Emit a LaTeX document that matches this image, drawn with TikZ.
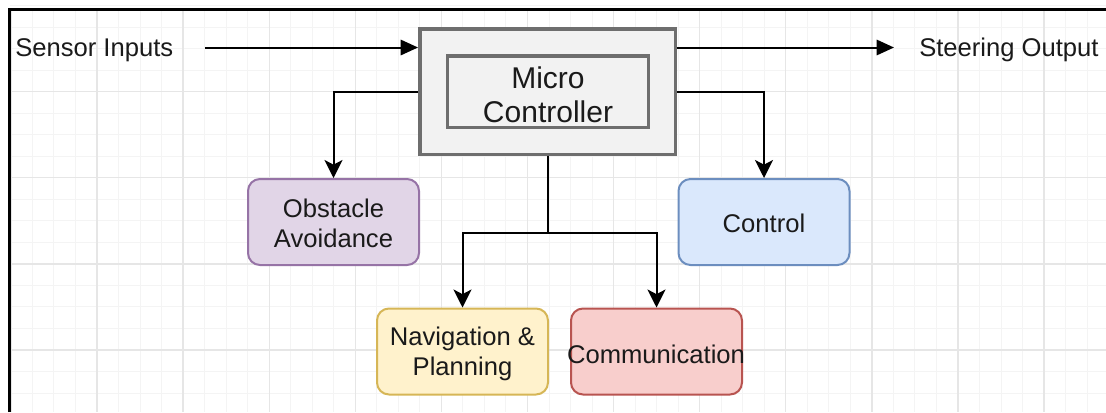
\documentclass[tikz,border=0pt]{standalone}
\usepackage{fontspec}
\setmainfont{Liberation Sans}
\usetikzlibrary{arrows.meta}
\definecolor{majorgrid}{HTML}{E6E6E6}
\definecolor{minorgrid}{HTML}{F4F4F4}
\definecolor{mcfill}{HTML}{F2F2F2}
\definecolor{mcdraw}{HTML}{6E6E6E}
\definecolor{obsfill}{HTML}{E1D5E7}
\definecolor{obsdraw}{HTML}{9673A6}
\definecolor{ctlfill}{HTML}{DAE8FC}
\definecolor{ctldraw}{HTML}{6C8EBF}
\definecolor{navfill}{HTML}{FFF2CC}
\definecolor{navdraw}{HTML}{D6B656}
\definecolor{comfill}{HTML}{F8CECC}
\definecolor{comdraw}{HTML}{B85450}
\definecolor{txt}{HTML}{1A1A1A}
\tikzset{
  x=0.75pt, y=-0.75pt,
  every node/.style={text=txt},
  modbox/.style={draw, rounded corners=9pt, line width=1.5pt, minimum width=128.25pt,
    minimum height=64.5pt, inner sep=0pt},
  modtext/.style={align=center, inner sep=0pt,
    font=\fontsize{19.2pt}{22.5pt}\selectfont},
  mcbox/.style={draw=mcdraw, fill=mcfill, line width=2.6pt, inner sep=0pt},
  label text/.style={font=\fontsize{19.2pt}{22.5pt}\selectfont, inner sep=0pt},
  conn/.style={line width=1.5pt, draw=black},
  downarrow/.style={conn, -{Stealth[length=13.5pt, width=13.5pt, inset=3.5pt]}},
  sidearrow/.style={conn, -{Triangle[length=13pt, width=11.5pt]}},
}
\begin{document}
\begin{tikzpicture}
\useasboundingbox (0,0) rectangle (1106,412);
\fill[white] (0,0) rectangle (1106,412);
% grid
\foreach \i in {0,...,51} {
  \draw[minorgrid, line width=0.75pt] ({10.9+21.525*\i},10) -- ({10.9+21.525*\i},412);
}
\foreach \i in {0,...,19} {
  \draw[minorgrid, line width=0.75pt] (10,{5.6+21.525*\i}) -- (1106,{5.6+21.525*\i});
}
\foreach \i in {0,...,12} {
  \draw[majorgrid, line width=1pt] ({10.9+86.1*\i},10) -- ({10.9+86.1*\i},412);
}
\foreach \i in {1,...,4} {
  \draw[majorgrid, line width=1pt] (10,{5.6+86.1*\i}) -- (1106,{5.6+86.1*\i});
}
% frame
\draw[black, line width=2.25pt] (9,412) -- (9,9) -- (1106,9);

% micro controller
\node[mcbox, minimum width=191.6pt, minimum height=94.1pt] (mc) at (547.5,91.5) {};
\node[mcbox, minimum width=150.4pt, minimum height=53.6pt] (mci) at (548,91.5) {};
\node[align=center, inner sep=0pt, font=\fontsize{22.5pt}{25.5pt}\selectfont] (mct) at (548,94.5) {Micro\\Controller};

% modules
\node[modbox, fill=obsfill, draw=obsdraw] (obs) at (333.5,222) {};
\node[modtext] (obst) at (333.5,223.5) {Obstacle\\Avoidance};
\node[modbox, fill=ctlfill, draw=ctldraw] (ctl) at (764,222) {};
\node[modtext] (ctlt) at (764,223.5) {Control};
\node[modbox, fill=navfill, draw=navdraw] (nav) at (462.5,351.5) {};
\node[modtext] (navt) at (462.5,353.5) {Navigation \&\\Planning};
\node[modbox, fill=comfill, draw=comdraw] (com) at (656.5,351.5) {};
\node[modtext] (comt) at (656,354) {Communication};

% labels
\node[label text, anchor=base west] (sin) at (15,56.5) {Sensor Inputs};
\node[label text, anchor=base west] (sout) at (919,56.7) {Steering Output};
\coordinate (sinend) at (205,47.5);
\coordinate (soutend) at (894,47.5);
\coordinate (split) at (547.5,232.5);

% connectors
\draw[sidearrow] (sinend) -- (mc.west |- sinend);
\draw[sidearrow] (mc.east |- soutend) -- (soutend);
\draw[downarrow] (mc.west) -| (obs.north);
\draw[downarrow] (mc.east) -| (ctl.north);
\draw[conn] (mc.south) -- (split);
\draw[downarrow] (split) -| (nav.north);
\draw[downarrow] (split) -| (com.north);
\end{tikzpicture}
\end{document}
